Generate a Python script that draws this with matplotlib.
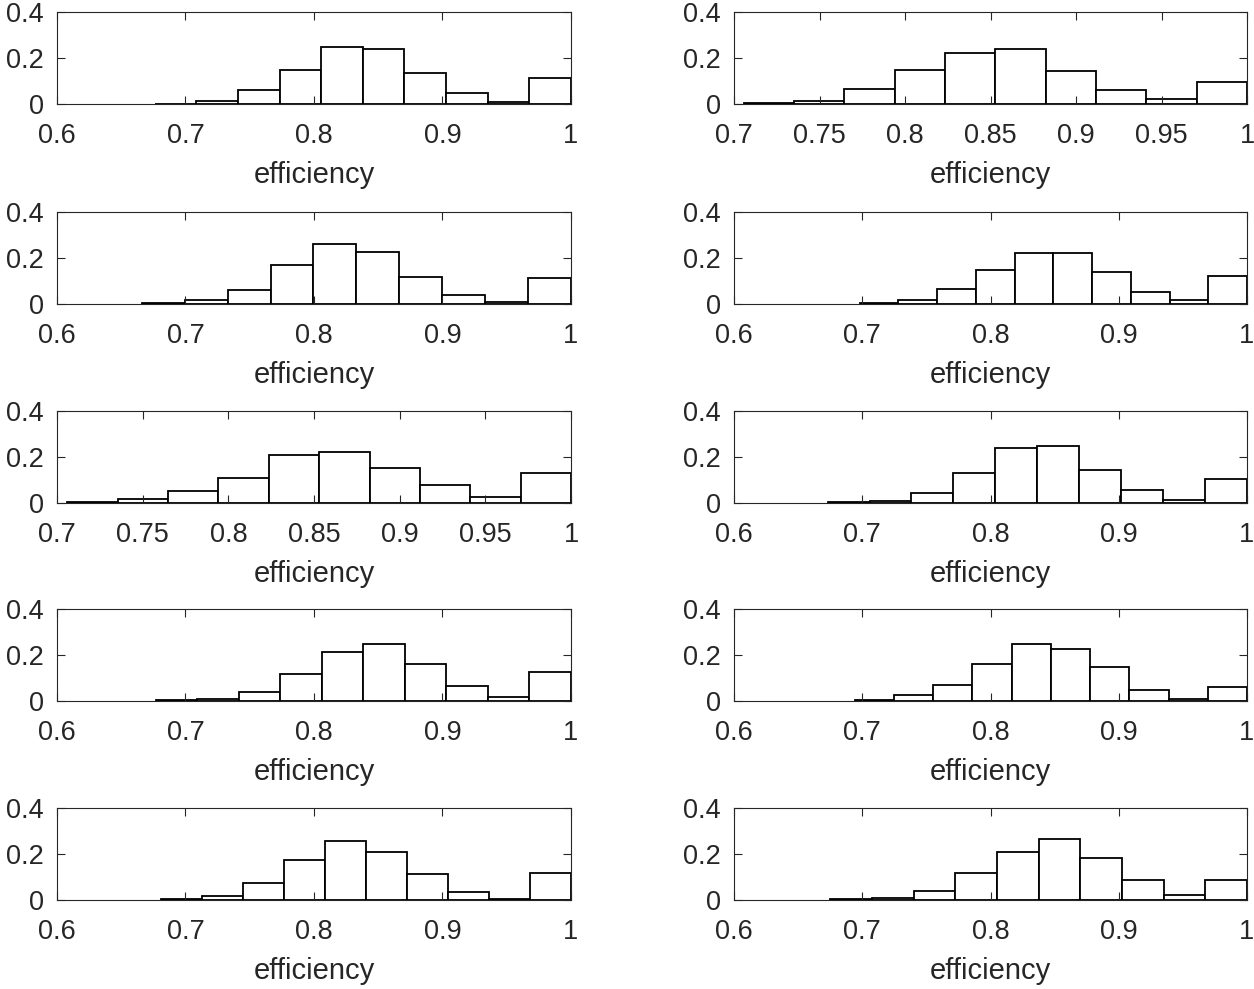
import matplotlib
matplotlib.use("Agg")
import matplotlib.pyplot as plt
import numpy as np
from matplotlib.ticker import FuncFormatter

plt.rcParams['font.family'] = ['Liberation Sans', 'DejaVu Sans']

# left edge of the first bin in each panel (last edge is always 1)
bin_start = [0.676, 0.7056, 0.666, 0.698, 0.706, 0.673, 0.677, 0.694, 0.681, 0.675]

# x-axis lower limits of each panel
x_low = [0.6, 0.7, 0.6, 0.6, 0.7, 0.6, 0.6, 0.6, 0.6, 0.6]

# relative frequencies of the 10 bins, panel by panel (row-major)
h1 = [0.002, 0.015, 0.063, 0.149, 0.246, 0.237, 0.135, 0.050, 0.009, 0.113]
h2 = [0.004, 0.013, 0.064, 0.149, 0.220, 0.238, 0.143, 0.061, 0.023, 0.097]
h3 = [0.003, 0.017, 0.062, 0.168, 0.261, 0.228, 0.117, 0.038, 0.007, 0.114]
h4 = [0.004, 0.019, 0.067, 0.149, 0.223, 0.223, 0.138, 0.052, 0.017, 0.123]
h5 = [0.003, 0.016, 0.051, 0.109, 0.210, 0.223, 0.152, 0.077, 0.025, 0.129]
h6 = [0.003, 0.009, 0.042, 0.132, 0.237, 0.249, 0.145, 0.058, 0.013, 0.105]
h7 = [0.003, 0.010, 0.038, 0.119, 0.215, 0.246, 0.163, 0.065, 0.018, 0.128]
h8 = [0.004, 0.024, 0.069, 0.163, 0.246, 0.228, 0.149, 0.050, 0.010, 0.059]
h9 = [0.003, 0.019, 0.075, 0.174, 0.258, 0.210, 0.114, 0.036, 0.004, 0.119]
h10 = [0.003, 0.007, 0.038, 0.117, 0.209, 0.267, 0.181, 0.086, 0.023, 0.086]
heights = [h1, h2, h3, h4, h5, h6, h7, h8, h9, h10]

W, H = 1254, 989
fig = plt.figure(figsize=(W / 100, H / 100), dpi=100)

col_left = [57, 734]
col_width = [514, 513]
row_bottom = [104, 304, 503, 701, 900]
ax_h = 92

axc = '#262626'
fmt = FuncFormatter(lambda v, p: '%g' % round(v, 3))
for i in range(10):
    r, c = divmod(i, 2)
    ax = fig.add_axes([col_left[c] / W, 1 - row_bottom[r] / H,
                       col_width[c] / W, ax_h / H])
    edges = np.linspace(bin_start[i], 1.0, 11)
    ax.bar(edges[:-1], heights[i], width=np.diff(edges), align='edge',
           color='white', edgecolor='black', linewidth=1.3)
    ax.set_xlim(x_low[i], 1)
    ax.set_ylim(0, 0.4)
    ax.set_yticks([0, 0.2, 0.4])
    if x_low[i] == 0.7:
        ax.set_xticks(np.arange(0.7, 1.001, 0.05))
    else:
        ax.set_xticks(np.arange(0.6, 1.001, 0.1))
    ax.xaxis.set_major_formatter(fmt)
    ax.yaxis.set_major_formatter(fmt)
    ax.tick_params(direction='in', top=True, right=True, length=5.5,
                   width=0.8, color=axc, labelcolor=axc, labelsize=19.5)
    ax.tick_params(axis='x', pad=13.5)
    ax.tick_params(axis='y', pad=9.5)
    for s in ax.spines.values():
        s.set_color(axc)
        s.set_linewidth(0.8)
    ax.set_xlabel('efficiency', fontsize=21, color=axc, labelpad=9)

fig.savefig('out.png', dpi=100)
